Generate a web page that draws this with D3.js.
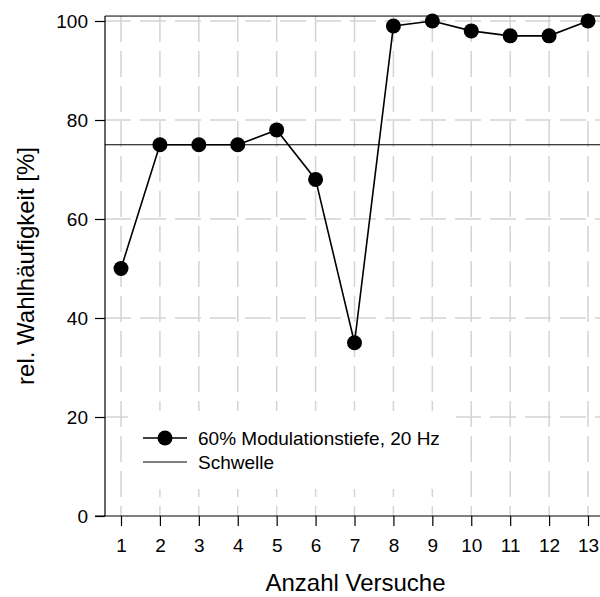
<!DOCTYPE html>
<html>
<head>
<meta charset="utf-8">
<script src="https://d3js.org/d3.v7.min.js"></script>
<style>
  body { margin: 0; background: white; }
  svg { font-family: "Liberation Sans", Arial, sans-serif; }
</style>
</head>
<body>
<svg id="svg"></svg>
<script>
    // -- data
    var versuche = [1, 2, 3, 4, 5, 6, 7, 8, 9, 10, 11, 12, 13];
    var wahl = [50, 75, 75, 75, 78, 68, 35, 99, 100, 98, 97, 97, 100];
    var schwelle = 75;
    var yTicks = [0, 20, 40, 60, 80, 100];
    var seriesName = "60% Modulationstiefe, 20 Hz";
    var schwelleName = "Schwelle";

    var W = 600, H = 597;
    var svg = d3.select("svg#svg")
        .attr("width", W)
        .attr("height", H)
        .style("background-color", "white");

    var x = d3.scaleLinear().domain([1, 13]).range([121, 588]);
    var y = d3.scaleLinear().domain([0, 100]).range([516, 21]);
    var plotLeft = 105, plotRight = 606, plotTop = y(101);   // -- "top" is taken by window.top

    var grid = svg.append("g").attr("id", "grid");

    // - vertical gridlines
    grid.selectAll("line.vg").data(versuche).enter()
        .append("line")
        .attr("class", "vg")
        .attr("x1", function(d) { return x(d); })
        .attr("x2", function(d) { return x(d); })
        .attr("y1", plotTop)
        .attr("y2", y(0))
        .style("stroke", "#d4d4d4")
        .style("stroke-width", 1.5)
        .style("stroke-dasharray", "26,9");

    // - horizontal gridlines
    grid.selectAll("line.hg").data(yTicks.filter(function(d) { return d > 0; })).enter()
        .append("line")
        .attr("class", "hg")
        .attr("x1", plotLeft)
        .attr("x2", plotRight)
        .attr("y1", function(d) { return y(d); })
        .attr("y2", function(d) { return y(d); })
        .style("stroke", "#d4d4d4")
        .style("stroke-width", 1.5)
        .style("stroke-dasharray", "26,9");

    // - frame top line
    svg.append("line")
        .attr("x1", plotLeft).attr("x2", plotRight)
        .attr("y1", plotTop).attr("y2", plotTop)
        .style("stroke", "black").style("stroke-width", 1);

    // - axes
    var yAxis = d3.axisLeft(y).tickValues(yTicks).tickSize(10).tickPadding(7).tickFormat(d3.format("d"));
    var gy = svg.append("g").attr("transform", "translate(" + plotLeft + ",0)").call(yAxis);
    gy.select(".domain").attr("d", "M0," + plotTop + "V" + y(0));

    var xAxis = d3.axisBottom(x).tickValues(versuche).tickSize(10).tickPadding(13).tickFormat(d3.format("d"));
    var gx = svg.append("g").attr("transform", "translate(0," + y(0) + ")").call(xAxis);
    gx.select(".domain").attr("d", "M" + (plotLeft - 10) + ",0H" + plotRight);

    svg.selectAll(".tick text").style("font-size", "19px").style("fill", "black")
        .style("font-family", "Liberation Sans, Arial, sans-serif");
    svg.selectAll(".tick line, .domain").style("stroke", "black").style("stroke-width", 1.2);

    // - threshold line
    svg.append("line")
        .attr("x1", plotLeft).attr("x2", plotRight)
        .attr("y1", y(schwelle)).attr("y2", y(schwelle))
        .style("stroke", "black").style("stroke-width", 1);

    // - data line + points
    var line = d3.line()
        .x(function(d, i) { return x(versuche[i]); })
        .y(function(d) { return y(d); });

    svg.append("path")
        .datum(wahl)
        .attr("d", line)
        .style("fill", "none")
        .style("stroke", "black")
        .style("stroke-width", 1.6);

    svg.selectAll("circle.pt").data(wahl).enter()
        .append("circle")
        .attr("class", "pt")
        .attr("cx", function(d, i) { return x(versuche[i]); })
        .attr("cy", function(d) { return y(d); })
        .attr("r", 7.5)
        .style("fill", "black");

    // - legend
    var lg = svg.append("g").attr("id", "legend");
    lg.append("rect")
        .attr("x", 128).attr("y", 411)
        .attr("width", 328).attr("height", 78)
        .style("fill", "white");
    lg.append("line")
        .attr("x1", 143).attr("x2", 187).attr("y1", 438).attr("y2", 438)
        .style("stroke", "black").style("stroke-width", 1.6);
    lg.append("circle")
        .attr("cx", 165).attr("cy", 438).attr("r", 7.5)
        .style("fill", "black");
    lg.append("text")
        .attr("x", 198).attr("y", 438).attr("dy", "0.35em")
        .style("font-size", "19px")
        .text(seriesName);
    lg.append("line")
        .attr("x1", 143).attr("x2", 187).attr("y1", 462).attr("y2", 462)
        .style("stroke", "black").style("stroke-width", 1);
    lg.append("text")
        .attr("x", 198).attr("y", 462).attr("dy", "0.35em")
        .style("font-size", "19px")
        .text(schwelleName);

    // - axis titles
    svg.append("text")
        .attr("x", (plotLeft + plotRight) / 2)
        .attr("y", 591)
        .style("text-anchor", "middle")
        .style("font-size", "24px")
        .text("Anzahl Versuche");

    svg.append("text")
        .attr("transform", "translate(34," + ((plotTop + y(0)) / 2) + ") rotate(-90)")
        .style("text-anchor", "middle")
        .style("font-size", "24px")
        .text("rel. Wahlhäufigkeit [%]");
</script>
</body>
</html>
